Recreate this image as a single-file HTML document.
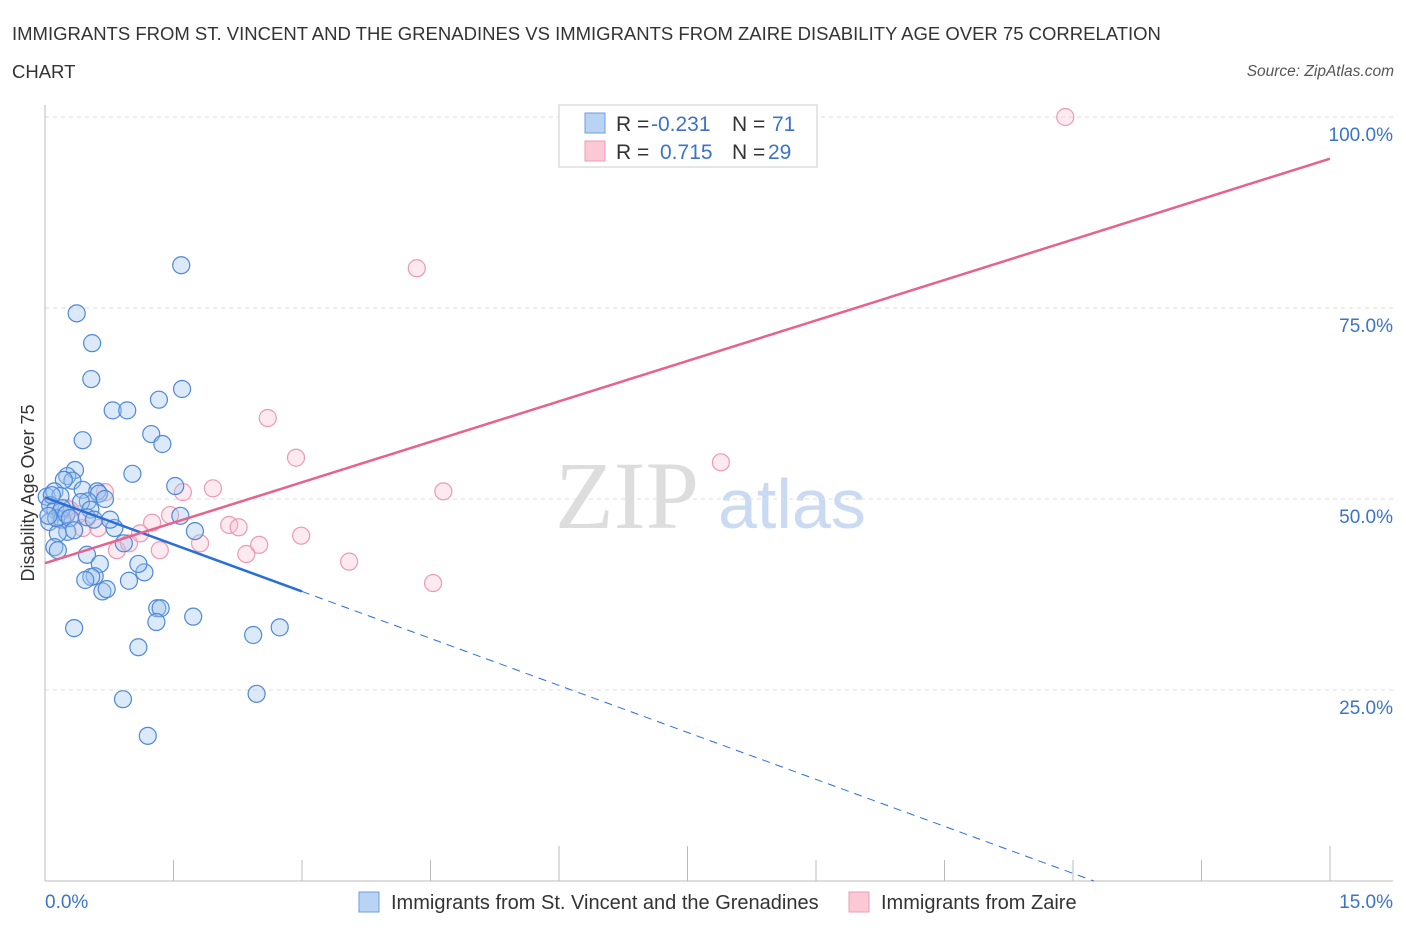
<!DOCTYPE html>
<html><head><meta charset="utf-8"><style>
body{margin:0;background:#fff;font-family:"Liberation Sans",sans-serif;}
</style></head><body>
<svg id="chart" width="1406" height="930" xmlns="http://www.w3.org/2000/svg">
<text x="12" y="40" font-size="18.5" fill="#333">IMMIGRANTS FROM ST. VINCENT AND THE GRENADINES VS IMMIGRANTS FROM ZAIRE DISABILITY AGE OVER 75 CORRELATION</text>
<text x="12" y="78" font-size="18.5" fill="#333">CHART</text>
<text x="1394" y="76" font-size="15.5" fill="#555" font-style="italic" text-anchor="end">Source: ZipAtlas.com</text>
<text x="555" y="528" font-size="96" fill="#ddd" font-family="Liberation Serif,serif">ZIP</text>
<text x="718" y="528" font-size="70" fill="#c9daf2">atlas</text>
<g id="grid"></g>
<g id="axes"></g>
<g id="pts"></g>
<g id="lines"></g>
<text transform="translate(34,493) rotate(-90)" font-size="18" fill="#333" text-anchor="middle">Disability Age Over 75</text>
<g>
<rect x="559" y="105" width="258" height="62" fill="#fff" stroke="#ccc"/>
<rect x="585" y="113" width="20" height="20" fill="#b9d3f5" stroke="#6f9ee0"/>
<rect x="585" y="141" width="20" height="20" fill="#fbc8d6" stroke="#ee9cb5"/>
<text x="616" y="131" font-size="21" fill="#333">R = <tspan x="651" fill="#3b73c8">-0.231</tspan><tspan x="732">N = </tspan><tspan x="772" fill="#3b73c8">71</tspan></text>
<text x="616" y="159" font-size="21" fill="#333">R = <tspan x="660" fill="#3b73c8">0.715</tspan><tspan x="732">N = </tspan><tspan x="768" fill="#3b73c8">29</tspan></text>
</g>
<g>
<rect x="359" y="892" width="20" height="20" fill="#b9d3f5" stroke="#6f9ee0"/>
<text x="391" y="909" font-size="20" fill="#333">Immigrants from St. Vincent and the Grenadines</text>
<rect x="849" y="892" width="20" height="20" fill="#fbc8d6" stroke="#ee9cb5"/>
<text x="881" y="909" font-size="20" fill="#333">Immigrants from Zaire</text>
</g>
</svg>
<script>
const blueX=[1.59,0.37,0.55,0.54,0.79,0.96,1.60,1.33,0.44,1.24,1.37,1.02,0.35,0.26,0.32,0.22,0.02,0.11,0.18,0.44,0.61,0.63,0.50,0.42,0.53,0.49,0.06,0.12,0.18,0.05,0.20,0.26,0.15,0.81,1.58,1.75,1.52,0.11,0.15,0.92,0.49,0.64,0.58,0.54,0.98,0.67,0.72,1.16,1.09,1.31,1.35,1.30,0.34,1.73,2.43,2.74,1.09,0.91,2.47,1.20,0.13,0.20,0.25,0.04,0.29,0.08,0.76,0.57,0.70,0.34,0.47];
const blueY=[80.6,74.3,70.4,65.7,61.6,61.6,64.4,63.0,57.7,58.5,57.2,53.3,53.8,53.0,52.4,52.5,50.3,51.0,50.4,51.2,51.0,50.7,49.7,49.6,48.6,47.6,49.2,48.6,48.3,47.0,47.3,45.7,45.5,46.2,47.8,45.8,51.7,43.7,43.3,44.2,42.7,41.5,39.9,39.8,39.3,37.9,38.2,40.4,41.5,35.7,35.7,33.9,33.1,34.6,32.2,33.2,30.6,23.8,24.5,19.0,47.5,48.8,48.0,47.8,47.5,50.5,47.3,47.3,50.0,45.9,39.4];
const pinkX=[11.91,4.34,2.60,2.93,7.89,4.65,1.96,0.70,1.61,1.46,1.25,2.15,2.26,2.99,1.81,2.50,0.84,1.34,2.35,0.98,1.11,0.62,0.44,3.55,4.53,0.29,0.18,0.39,0.25];
const pinkY=[100,80.2,60.6,55.4,54.8,51.0,51.4,50.9,50.9,47.9,46.9,46.6,46.3,45.2,44.2,44.0,43.3,43.3,42.8,44.2,45.5,46.2,46.2,41.8,39.0,48.6,47.3,48.0,48.8];
const yTicks=[25,50,75,100];
const yTickLabels=["25.0%","50.0%","75.0%","100.0%"];
const xTickLabels=["0.0%","15.0%"];
const blueTrend=[50.2,-4.1]; // intercept, slope
const pinkTrend=[41.6,3.53];
const NS="http://www.w3.org/2000/svg";
const sx=v=>45+v/15*1285;
const sy=v=>881-v/100*764;
function mk(tag,attrs,parent){const e=document.createElementNS(NS,tag);for(const k in attrs)e.setAttribute(k,attrs[k]);document.getElementById(parent).appendChild(e);return e;}
yTicks.forEach((t,i)=>{
 const g=mk('line',{x1:45,x2:1393,y1:sy(t),y2:sy(t),stroke:'#ddd','stroke-dasharray':'4,4'},'grid');
 
 
 const tx=mk('text',{x:1393,y:sy(t)+24,'font-size':19,fill:'#3b73c8','text-anchor':'end'},'grid');
 tx.textContent=yTickLabels[i];
 
 
});
let a=mk('line',{x1:45,x2:45,y1:105,y2:881,stroke:'#bbb'},'axes');


a=mk('line',{x1:45,x2:1393,y1:881,y2:881,stroke:'#bbb'},'axes');


for(let i=1;i<=10;i++){
 const tall=(i==4||i==5||i==10);
 const t=mk('line',{x1:sx(i*1.5),x2:sx(i*1.5),y1:tall?846:860,y2:881,stroke:'#bbb'},'axes');
 
 
}
let xl=mk('text',{x:45,y:908,'font-size':19,fill:'#3b73c8'},'axes');xl.textContent=xTickLabels[0];


xl=mk('text',{x:1393,y:908,'font-size':19,fill:'#3b73c8','text-anchor':'end'},'axes');xl.textContent=xTickLabels[1];


pinkX.forEach((x,i)=>{
 const c=mk('circle',{cx:sx(x),cy:sy(pinkY[i]),r:8.5,fill:'rgba(248,190,208,0.32)',stroke:'#eb9ab3','stroke-width':1.2},'pts');
 
 
});
blueX.forEach((x,i)=>{
 const c=mk('circle',{cx:sx(x),cy:sy(blueY[i]),r:8.5,fill:'rgba(160,196,240,0.38)',stroke:'#4f88d8','stroke-width':1.2},'pts');
 
 
});
const bx1=3.0, bx2=-blueTrend[0]/blueTrend[1];
let l=mk('line',{x1:sx(0),y1:sy(blueTrend[0]),x2:sx(bx1),y2:sy(blueTrend[0]+blueTrend[1]*bx1),stroke:'#2a6fd6','stroke-width':2.5},'lines');


l=mk('line',{x1:sx(bx1),y1:sy(blueTrend[0]+blueTrend[1]*bx1),x2:sx(bx2),y2:sy(0),stroke:'#2a6fd6','stroke-width':1,'stroke-dasharray':'8,6'},'lines');


l=mk('line',{x1:sx(0),y1:sy(pinkTrend[0]),x2:sx(15),y2:sy(pinkTrend[0]+pinkTrend[1]*15),stroke:'#e5638c','stroke-width':2.5},'lines');


</script>
</body></html>
